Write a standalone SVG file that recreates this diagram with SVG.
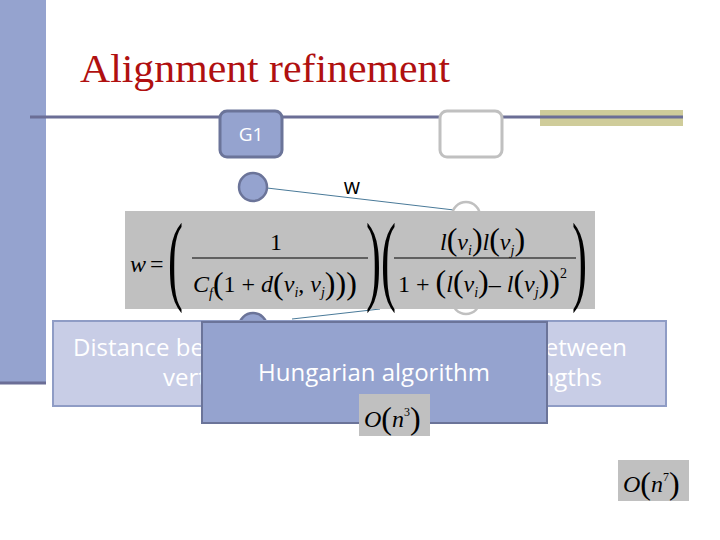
<svg xmlns="http://www.w3.org/2000/svg" width="720" height="540" viewBox="0 0 720 540">
<style>
.m{font-family:"Liberation Serif",serif;font-style:italic;fill:#000}
.r{font-family:"Liberation Serif",serif;fill:#000;font-style:normal}
.wt{font-family:"Open Sans","Liberation Sans",sans-serif;fill:#fff;font-size:24px}
.gray{fill:#c0c0c0}
.bp{font-family:"Liberation Serif",serif;font-size:100px;fill:#000}
</style>
<rect width="720" height="540" fill="#fff"/>
<rect x="0" y="0" width="46" height="383" fill="#95a3cf"/>
<line x1="0" y1="383" x2="46" y2="383" stroke="#6b6e96" stroke-width="3"/>
<text x="80" y="82" font-family="Liberation Serif,serif" font-size="40" fill="#b01010" textLength="370" lengthAdjust="spacingAndGlyphs">Alignment refinement</text>
<rect x="540" y="110" width="143" height="16" fill="#cfcc9a"/>
<line x1="30" y1="117" x2="683" y2="117" stroke="#6b6e96" stroke-width="3"/>
<g id="g1"><rect x="220" y="111" width="62" height="46" rx="7" fill="#95a3cf" stroke="#6b7499" stroke-width="3"/><text x="251" y="141" text-anchor="middle" font-family="Open Sans,sans-serif" font-size="19" fill="#fff">G1</text></g>
<g id="g2"><rect x="440" y="111" width="62" height="46" rx="7" fill="#fff" stroke="#c0c0c0" stroke-width="3"/></g>
<g id="connectors">
<line x1="267" y1="188" x2="454" y2="210" stroke="#4a7a99" stroke-width="1"/>
<line x1="292" y1="319" x2="380" y2="309" stroke="#4a7a99" stroke-width="1"/>
</g>
<g id="v1"><circle cx="253" cy="187" r="14" fill="#95a3cf" stroke="#6b7499" stroke-width="2.5"/></g>
<g id="v2"><circle cx="466" cy="216" r="14" fill="#fff" stroke="#c0c0c0" stroke-width="2.5"/></g>
<g id="v3"><circle cx="466" cy="300" r="14" fill="#fff" stroke="#c0c0c0" stroke-width="2.5"/></g>
<g id="v4"><circle cx="253" cy="327" r="14" fill="#95a3cf" stroke="#6b7499" stroke-width="2.5"/></g>
<text x="352" y="194" text-anchor="middle" font-family="Open Sans,sans-serif" font-size="21">w</text>
<g id="formula">
<rect x="125" y="211" width="470" height="98" class="gray"/>
<text x="130" y="272" class="m" font-size="24">w</text><text x="150" y="272" class="r" font-size="24">=</text>
<text class="bp" transform="translate(168,292) scale(0.45,1)">(</text>
<text class="bp" transform="translate(366,292) scale(0.45,1)">)(</text>
<text class="bp" transform="translate(572,292) scale(0.45,1)">)</text>
<text x="270" y="250" class="r" font-size="24">1</text>
<line x1="192" y1="258" x2="368" y2="258" stroke="#000" stroke-width="1.2"/>
<text x="193" y="292" class="m" font-size="24">C<tspan font-size="14" dy="6">f</tspan><tspan class="r" font-size="32" dy="-4">(</tspan><tspan class="r" font-size="24" dy="-2">1 + </tspan>d<tspan class="r" font-size="32" dy="2">(</tspan><tspan dy="-2">v</tspan><tspan font-size="14" dy="5">i</tspan><tspan class="r" dy="-5">, </tspan>v<tspan font-size="14" dy="5">j</tspan><tspan class="r" font-size="32" dy="-3">)))</tspan></text>
<text x="440" y="250" class="m" font-size="24">l<tspan class="r" font-size="32">(</tspan>v<tspan font-size="14" dy="5">i</tspan><tspan class="r" font-size="32" dy="-5">)</tspan>l<tspan class="r" font-size="32">(</tspan>v<tspan font-size="14" dy="5">j</tspan><tspan class="r" font-size="32" dy="-5">)</tspan></text>
<line x1="394" y1="258" x2="576" y2="258" stroke="#000" stroke-width="1.2"/>
<text x="398" y="292" class="r" font-size="24">1 + <tspan font-size="32">(</tspan><tspan class="m">l</tspan><tspan font-size="32">(</tspan><tspan class="m">v</tspan><tspan class="m" font-size="14" dy="5">i</tspan><tspan font-size="32" dy="-5">)</tspan>– <tspan class="m">l</tspan><tspan font-size="32">(</tspan><tspan class="m">v</tspan><tspan class="m" font-size="14" dy="5">j</tspan><tspan font-size="32" dy="-5">))</tspan><tspan font-size="14" dy="-14">2</tspan></text>
</g>
<g id="lightbox"><rect x="53" y="321" width="613" height="85" fill="#c8cde6" stroke="#8f9cc5" stroke-width="2"/>
<text x="73" y="356" class="wt">Distance be</text><text x="163" y="386" class="wt">vert</text>
<text x="627" y="356" class="wt" text-anchor="end">etween</text><text x="602" y="386" class="wt" text-anchor="end">ngths</text></g>
<g id="hungarian"><rect x="202" y="322" width="345" height="101" fill="#95a3cf" stroke="#6b7499" stroke-width="2"/>
<text x="374" y="381" class="wt" text-anchor="middle">Hungarian algorithm</text></g>
<g id="on3"><rect x="359" y="394" width="71" height="42" class="gray"/><text x="364" y="427" class="m" font-size="24">O<tspan class="r" font-size="32" dy="2">(</tspan><tspan dy="-2">n</tspan><tspan class="r" font-size="12" dy="-11">3</tspan><tspan class="r" font-size="32" dy="13">)</tspan></text></g>
<g id="on7"><rect x="618" y="460" width="71" height="41" class="gray"/><text x="623" y="492" class="m" font-size="24">O<tspan class="r" font-size="32" dy="2">(</tspan><tspan dy="-2">n</tspan><tspan class="r" font-size="12" dy="-11">7</tspan><tspan class="r" font-size="32" dy="13">)</tspan></text></g>
</svg>
